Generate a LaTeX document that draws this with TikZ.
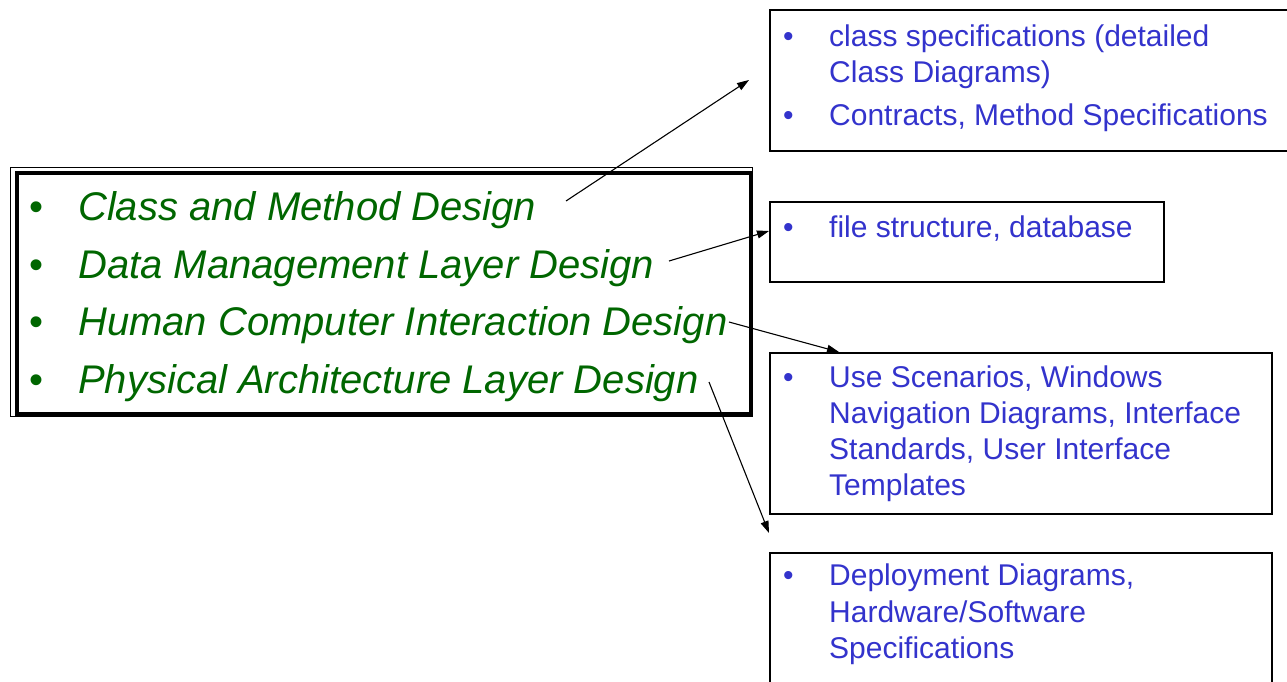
\documentclass[tikz,border=0pt]{standalone}
\usepackage{fontspec}
\setmainfont{Liberation Sans}
\usetikzlibrary{arrows.meta}
\definecolor{dgreen}{RGB}{0,102,0}
\definecolor{tblue}{RGB}{51,51,204}
\begin{document}
\begin{tikzpicture}[x=1pt,y=-1pt,
  box/.style={draw=black,line width=1.6pt,inner sep=0pt,anchor=north west},
  gtxt/.style={inner sep=0pt,anchor=base west,text=dgreen,font=\fontsize{40}{58}\selectfont\itshape},
  gbul/.style={inner sep=0pt,anchor=base west,text=dgreen,font=\fontsize{40}{58}\selectfont},
  btxt/.style={inner sep=0pt,anchor=base west,text=tblue,font=\fontsize{30}{36}\selectfont},
  conn/.style={line width=1.1pt,-{Triangle[length=12pt,width=8pt]}}]
\useasboundingbox (0,0) rectangle (1287,681);
% main framed box
\draw[line width=1pt] (10.5,167) rectangle (752.5,416.5);
\node[draw=black,line width=4pt,inner sep=0pt,anchor=north west,minimum width=734pt,minimum height=241pt] (main) at (15,171) {};
% green items
\node[gbul] (gb1) at (29,220) {•};
\node[gtxt] (g1) at (78,220) {Class and Method Design};
\node[gbul] (gb2) at (29,278) {•};
\node[gtxt] (g2) at (78,278) {Data Management Layer Design};
\node[gbul] (gb3) at (29,335) {•};
\node[gtxt] (g3) at (78,335) {Human Computer Interaction Design};
\node[gbul] (gb4) at (29,393) {•};
\node[gtxt] (g4) at (78,393) {Physical Architecture Layer Design};
% right boxes
\node[box,minimum width=530pt,minimum height=141pt] (b1) at (769,9) {};
\node[box,minimum width=394pt,minimum height=80pt] (b2) at (769,201) {};
\node[box,minimum width=502pt,minimum height=161pt] (b3) at (769,352) {};
\node[box,minimum width=502pt,minimum height=150pt] (b4) at (769,552) {};
% box 1 text
\node[btxt] (bb1) at (783,46) {•};
\node[btxt] (t1a) at (829,46) {class specifications (detailed};
\node[btxt] (t1b) at (829,82) {Class Diagrams)};
\node[btxt] (bb1b) at (783,125) {•};
\node[btxt] (t1c) at (829,125) {Contracts, Method Specifications};
% box 2 text
\node[btxt] (bb2) at (783,237) {•};
\node[btxt] (t2a) at (829,237) {file structure, database};
% box 3 text
\node[btxt] (bb3) at (783,387) {•};
\node[btxt] (t3a) at (829,387) {Use Scenarios, Windows};
\node[btxt] (t3b) at (829,423) {Navigation Diagrams, Interface};
\node[btxt] (t3c) at (829,459) {Standards, User Interface};
\node[btxt] (t3d) at (829,495) {Templates};
% box 4 text
\node[btxt] (bb4) at (783,585) {•};
\node[btxt] (t4a) at (829,585) {Deployment Diagrams,};
\node[btxt] (t4b) at (829,622) {Hardware/Software};
\node[btxt] (t4c) at (829,658) {Specifications};
% connector ends
\coordinate (s1) at (566,201);
\coordinate (e1) at (749,80);
\coordinate (s2) at (669,261);
\coordinate (y2) at (0,231);
\coordinate (e2) at (b2.west |- y2);
\coordinate (s3) at (729,322);
\coordinate (x3) at (839,0);
\coordinate (e3) at (x3 |- b3.north);
\coordinate (s4) at (709,382);
\coordinate (e4) at (769,533);
\draw[conn] (s1) -- (e1);
\draw[conn] (s2) -- (e2);
\draw[conn] (s3) -- (e3);
\draw[conn] (s4) -- (e4);
\end{tikzpicture}
\end{document}
